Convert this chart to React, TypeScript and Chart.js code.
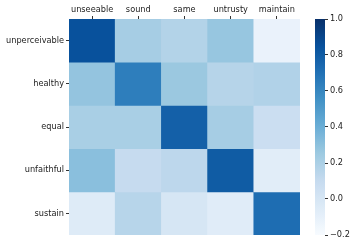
import { useEffect, useRef } from "react";
import { Chart, registerables } from "chart.js";
Chart.register(...registerables);

const columns = ["unseeable", "sound", "same", "untrusty", "maintain"];
const rows = ["unperceivable", "healthy", "equal", "unfaithful", "sustain"];
const rowUnperceivable = [0.85, 0.22, 0.17, 0.27, -0.12];
const rowHealthy = [0.28, 0.64, 0.26, 0.16, 0.18];
const rowEqual = [0.21, 0.21, 0.78, 0.22, 0.07];
const rowUnfaithful = [0.31, 0.1, 0.135, 0.8, -0.07];
const rowSustain = [-0.05, 0.155, 0.0, -0.06, 0.72];
const values = [rowUnperceivable, rowHealthy, rowEqual, rowUnfaithful, rowSustain];
const colorbarTicks = [-0.2, 0.0, 0.2, 0.4, 0.6, 0.8, 1.0];
const vmin = -0.2;
const vmax = 1.0;

const BLUES = ["#f7fbff", "#deebf7", "#c6dbef", "#9ecae1", "#6baed6", "#4292c6", "#2171b5", "#08519c", "#08306b"];

function hexToRgb(h: string) {
  return [parseInt(h.slice(1, 3), 16), parseInt(h.slice(3, 5), 16), parseInt(h.slice(5, 7), 16)];
}
function blues(t: number) {
  t = Math.max(0, Math.min(1, t));
  const p = t * (BLUES.length - 1);
  const i = Math.min(BLUES.length - 2, Math.floor(p));
  const f = p - i;
  const a = hexToRgb(BLUES[i]);
  const b = hexToRgb(BLUES[i + 1]);
  const c = a.map((x, k) => Math.round(x + (b[k] - x) * f));
  return `rgb(${c[0]},${c[1]},${c[2]})`;
}
const colorFor = (v: number) => blues((v - vmin) / (vmax - vmin));

const FONT = { family: "'DejaVu Sans', sans-serif", size: 8.2 };
const TEXT = "#222";

export default function App() {
  const mainRef = useRef<HTMLCanvasElement>(null);
  const barRef = useRef<HTMLCanvasElement>(null);

  useEffect(() => {
    const main = new Chart(mainRef.current!, {
      type: "bar",
      data: {
        labels: columns,
        datasets: rows.map((r, ri) => ({
          label: r,
          data: columns.map(() => [ri, ri + 1] as any),
          backgroundColor: values[ri].map(colorFor),
          borderWidth: 0,
          barPercentage: 1,
          categoryPercentage: 1,
          grouped: false,
        })),
      },
      options: {
        animation: false,
        responsive: false,
        devicePixelRatio: 1,
        layout: { padding: { left: 0, right: 57, top: 0, bottom: 11 } },
        plugins: { legend: { display: false }, tooltip: { enabled: false } },
        scales: {
          x: {
            position: "top",
            border: { display: false },
            grid: { display: true, drawOnChartArea: false, drawTicks: true, tickLength: 3, color: "#333", offset: false },
            ticks: { font: FONT, color: TEXT, padding: 1, maxRotation: 0 },
            afterFit: (s: any) => { s.height = 19; },
          },
          y: {
            type: "linear",
            min: 0,
            max: 5,
            reverse: true,
            border: { display: false },
            grid: { display: true, drawOnChartArea: false, drawTicks: true, tickLength: 3, color: "#333" },
            afterBuildTicks: (s: any) => { s.ticks = rows.map((_, i) => ({ value: i + 0.5 })); },
            ticks: {
              font: FONT,
              color: TEXT,
              padding: 2,
              callback: (v: any) => rows[Math.floor(Number(v))],
            },
            afterFit: (s: any) => { s.width = 69; },
          },
        },
      },
    } as any);

    const bar = new Chart(barRef.current!, {
      type: "bar",
      data: {
        labels: ["cb"],
        datasets: [
          {
            data: [[vmin, vmax] as any],
            backgroundColor: (ctx: any) => {
              const ca = ctx.chart.chartArea;
              if (!ca) return "#fff";
              const g = ctx.chart.ctx.createLinearGradient(0, ca.bottom, 0, ca.top);
              for (let i = 0; i <= 24; i++) g.addColorStop(i / 24, blues(i / 24));
              return g;
            },
            borderWidth: 0,
            barPercentage: 1,
            categoryPercentage: 1,
          },
        ],
      },
      options: {
        animation: false,
        responsive: false,
        devicePixelRatio: 1,
        layout: { padding: { left: 315, right: 0, top: 19, bottom: 11 } },
        plugins: { legend: { display: false }, tooltip: { enabled: false } },
        scales: {
          x: { display: false },
          y: {
            position: "right",
            min: vmin,
            max: vmax,
            border: { display: false },
            grid: { display: true, drawOnChartArea: false, drawTicks: true, tickLength: 3, color: "#333" },
            afterBuildTicks: (s: any) => { s.ticks = colorbarTicks.map((v) => ({ value: v })); },
            ticks: {
              font: FONT,
              color: TEXT,
              padding: 2,
              callback: (v: any) => Number(v).toFixed(1).replace("-", "\u2212"),
            },
            afterFit: (s: any) => { s.width = 32; },
          },
        },
      },
    } as any);

    return () => {
      main.destroy();
      bar.destroy();
    };
  }, []);

  return (
    <div style={{ position: "fixed", left: 0, top: 0, width: 357, height: 246, background: "#fff" }}>
      <canvas ref={mainRef} width={357} height={246} style={{ position: "absolute", left: 0, top: 0 }} />
      <canvas ref={barRef} width={357} height={246} style={{ position: "absolute", left: 0, top: 0 }} />
    </div>
  );
}
